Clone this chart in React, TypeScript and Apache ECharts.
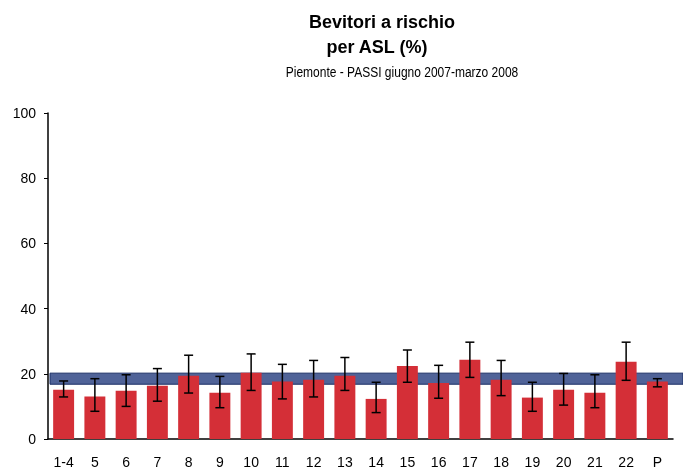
import React, { useEffect, useRef } from "react";
import * as echarts from "echarts";

const categories = ["1-4", "5", "6", "7", "8", "9", "10", "11", "12", "13", "14", "15", "16", "17", "18", "19", "20", "21", "22", "P"];
const values = [15.1, 13.0, 14.8, 16.3, 19.4, 14.2, 20.3, 17.6, 18.2, 19.4, 12.3, 22.4, 17.2, 24.3, 18.2, 12.7, 15.1, 14.2, 23.7, 17.6];
const lower = [12.9, 8.5, 10.0, 11.6, 14.1, 9.6, 14.9, 12.3, 12.9, 14.9, 8.1, 17.4, 12.5, 18.9, 13.3, 8.5, 10.4, 9.6, 18.0, 16.0];
const upper = [17.8, 18.5, 19.7, 21.6, 25.7, 19.2, 26.1, 22.9, 24.1, 25.0, 17.4, 27.3, 22.6, 29.7, 24.1, 17.4, 20.1, 19.7, 29.7, 18.5];
const bandRange = [16.8, 20.2];
const titleLines = ["Bevitori a rischio", "per ASL (%)"];
const subtitle = "Piemonte - PASSI giugno 2007-marzo 2008";

const FONT = "Liberation Sans, Arial, sans-serif";

export default function App() {
  const ref = useRef<HTMLDivElement>(null);
  useEffect(() => {
    if (!ref.current) return;
    const chart = echarts.init(ref.current, null, { renderer: "svg" });
    const errData = categories.map((_, i) => [i, lower[i], upper[i]]);
    chart.setOption({
      animation: false,
      textStyle: { fontFamily: FONT },
      graphic: [
        { type: "text", x: 382, y: 22, style: { text: titleLines[0], font: `bold 18px ${FONT}`, fill: "#000", textAlign: "center", textVerticalAlign: "middle" } },
        { type: "text", x: 377, y: 47, style: { text: titleLines[1], font: `bold 18px ${FONT}`, fill: "#000", textAlign: "center", textVerticalAlign: "middle" } },
        { type: "text", x: 402, y: 72, scaleX: 0.8, style: { text: subtitle, font: `15px ${FONT}`, fill: "#000", textAlign: "center", textVerticalAlign: "middle" } },
      ],
      grid: [
        { left: 48, right: 10, top: 113, bottom: 30 },
        { left: 50, right: 0, top: 113, bottom: 30 },
      ],
      xAxis: [
        {
          type: "category",
          gridIndex: 0,
          data: categories,
          axisLine: { lineStyle: { color: "#000", width: 1.5 } },
          axisTick: { show: false },
          axisLabel: { color: "#000", fontSize: 14, fontFamily: FONT, margin: 16, interval: 0 },
        },
        { type: "value", gridIndex: 1, min: 0, max: 1, show: false },
      ],
      yAxis: [
        {
          type: "value",
          gridIndex: 0,
          min: 0,
          max: 100,
          interval: 20,
          axisLine: { show: true, lineStyle: { color: "#000", width: 1.5 } },
          axisTick: { show: true, length: 4, lineStyle: { color: "#000" } },
          splitLine: { show: false },
          axisLabel: { color: "#000", fontSize: 14, fontFamily: FONT, margin: 12 },
        },
        { type: "value", gridIndex: 1, min: 0, max: 100, show: false },
      ],
      series: [
        {
          type: "bar",
          xAxisIndex: 0,
          yAxisIndex: 0,
          data: values,
          barCategoryGap: "33%",
          itemStyle: { color: "#d42f37" },
          z: 2,
        },
        {
          type: "custom",
          xAxisIndex: 0,
          yAxisIndex: 0,
          data: errData,
          encode: { x: 0, y: [1, 2] },
          z: 3,
          renderItem: (params: any, api: any) => {
            const lo = api.coord([api.value(0), api.value(1)]);
            const hi = api.coord([api.value(0), api.value(2)]);
            const hw = 4.5;
            const style = { stroke: "#000", lineWidth: 1.5 };
            return {
              type: "group",
              children: [
                { type: "line", shape: { x1: lo[0], y1: lo[1], x2: hi[0], y2: hi[1] }, style },
                { type: "line", shape: { x1: lo[0] - hw, y1: lo[1], x2: lo[0] + hw, y2: lo[1] }, style },
                { type: "line", shape: { x1: hi[0] - hw, y1: hi[1], x2: hi[0] + hw, y2: hi[1] }, style },
              ],
            };
          },
        },
        {
          type: "line",
          xAxisIndex: 1,
          yAxisIndex: 1,
          data: [[0, 0], [1, 0]],
          symbol: "none",
          lineStyle: { width: 0, opacity: 0 },
          silent: true,
          z: 10,
          markArea: {
            silent: true,
            itemStyle: { color: "rgba(25,50,120,0.76)", borderColor: "#1b2f66", borderWidth: 1 },
            data: [[{ yAxis: bandRange[0] }, { yAxis: bandRange[1] }]],
          },
        },
      ],
    });
    return () => chart.dispose();
  }, []);
  return <div ref={ref} style={{ position: "fixed", left: 0, top: 0, width: 683, height: 469 }} />;
}
